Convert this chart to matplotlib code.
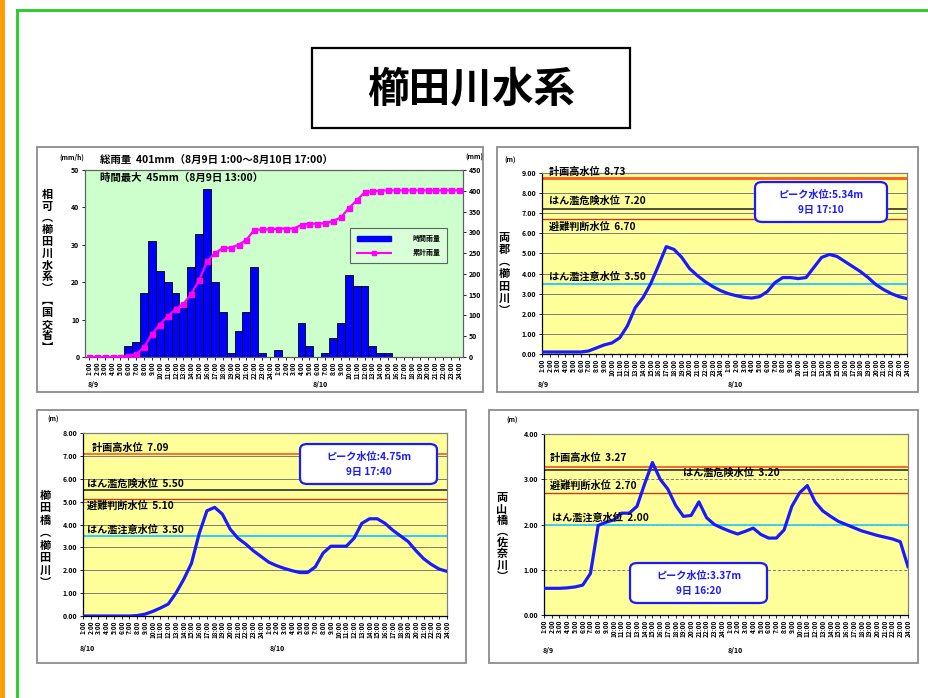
import matplotlib
matplotlib.use("Agg")
import matplotlib.pyplot as plt
from matplotlib.patches import Rectangle, FancyBboxPatch, Patch
from matplotlib.lines import Line2D
import numpy as np

plt.rcParams['font.family'] = ['Noto Sans CJK JP', 'DejaVu Sans']

# ---------------- data ----------------
hour_labels = [f"{h}:00" for h in range(1, 25)] + [f"{h}:00" for h in range(1, 25)]

rain_hourly = [0, 0, 0, 0, 0, 3, 4, 17, 31, 23, 20, 17, 13, 24, 33, 45, 20, 12, 1, 7,
               12, 24, 1, 0, 2, 0, 0, 9, 3, 0, 1, 5, 9, 22, 19, 19, 3, 1, 1, 0,
               0, 0, 0, 0, 0, 0, 0, 0]
rain_cumulative = [0, 0, 0, 0, 0, 3, 7, 24, 55, 78, 98, 115, 128, 152, 185, 230, 250, 262, 263, 270,
                   282, 306, 307, 307, 309, 309, 309, 318, 321, 321, 322, 327, 336, 358, 377, 396, 399, 400, 401, 401,
                   401, 401, 401, 401, 401, 401, 401, 401]

level_ryogun = [0.1, 0.1, 0.1, 0.1, 0.1, 0.1, 0.15, 0.3, 0.45, 0.55, 0.8, 1.4, 2.3, 2.8, 3.5, 4.4, 5.34, 5.2, 4.8, 4.25,
                3.9, 3.6, 3.35, 3.15, 3.0, 2.9, 2.82, 2.78, 2.85, 3.1, 3.55, 3.8, 3.8, 3.75, 3.8, 4.3, 4.8, 4.95, 4.85, 4.6,
                4.35, 4.1, 3.8, 3.45, 3.2, 3.0, 2.85, 2.75]
level_kushidabashi = [0.0, 0.0, 0.0, 0.0, 0.0, 0.0, 0.0, 0.02, 0.08, 0.2, 0.35, 0.52, 1.0, 1.6, 2.3, 3.6, 4.6, 4.75, 4.45, 3.8,
                      3.4, 3.15, 2.85, 2.6, 2.35, 2.2, 2.08, 1.98, 1.9, 1.9, 2.15, 2.75, 3.05, 3.05, 3.05, 3.4, 4.05, 4.25, 4.25, 4.05,
                      3.75, 3.5, 3.25, 2.85, 2.5, 2.25, 2.05, 1.95]
level_sana = [0.59, 0.59, 0.59, 0.6, 0.62, 0.66, 0.92, 1.98, 2.05, 2.1, 2.25, 2.25, 2.4, 2.9, 3.37, 3.0, 2.78, 2.42, 2.18, 2.2,
              2.5, 2.15, 2.0, 1.92, 1.85, 1.79, 1.85, 1.92, 1.78, 1.7, 1.7, 1.88, 2.4, 2.7, 2.86, 2.5, 2.3, 2.18, 2.07, 2.0,
              1.93, 1.86, 1.81, 1.76, 1.72, 1.68, 1.62, 1.07]

ref_names = ["計画高水位", "はん濫危険水位", "避難判断水位", "はん濫注意水位"]
ref_ryogun = [8.73, 7.20, 6.70, 3.50]
ref_kushidabashi = [7.09, 5.50, 5.10, 3.50]
ref_sana = [3.27, 3.20, 2.70, 2.00]
ref_colors = ["#ff5a1a", "#303030", "#c83c1e", "#33ccff"]

# ---------------- figure ----------------
W, H = 929, 698
fig = plt.figure(figsize=(W / 100, H / 100), dpi=100)
fig.patch.set_facecolor("white")


def add_ax(x0, y0, x1, y1):
    return fig.add_axes([x0 / W, 1 - y1 / H, (x1 - x0) / W, (y1 - y0) / H])


def ftext(x, y, s, **kw):
    kw.setdefault("va", "center")
    return fig.text(x / W, 1 - y / H, s, **kw)


def frect(x0, y0, x1, y1, **kw):
    r = Rectangle((x0 / W, 1 - y1 / H), (x1 - x0) / W, (y1 - y0) / H,
                  transform=fig.transFigure, **kw)
    fig.add_artist(r)


def vlabel(x, yc, s, step, fs=8):
    n = len(s)
    y0 = yc - step * (n - 1) / 2
    for i, ch in enumerate(s):
        ftext(x, y0 + i * step, ch, ha="center", fontsize=fs, fontweight="bold")


# page decorations
fig.add_artist(Line2D([2 / W, 2 / W], [0, 1], color="#ff9900", lw=3.5, transform=fig.transFigure))
fig.add_artist(Line2D([17 / W, 17 / W], [0, 1 - 10 / H], color="#22cc22", lw=2, transform=fig.transFigure))
fig.add_artist(Line2D([17 / W, 1], [1 - 10 / H, 1 - 10 / H], color="#22cc22", lw=2, transform=fig.transFigure))

# title
frect(312, 48, 630, 128, fill=False, edgecolor="black", lw=1.6)
ftext(471, 89, "櫛田川水系", ha="center", fontsize=30, fontweight="bold")

# panel borders
for (a, b, c, d) in [(37, 147, 483, 392), (497, 147, 918, 392), (37, 410, 466, 663), (489, 410, 918, 663)]:
    frect(a, b, c, d, fill=False, edgecolor="#8c8c8c", lw=1.3)

x = np.arange(len(hour_labels))


def style_xticks(ax):
    ax.set_xticks(x)
    ax.set_xticklabels(hour_labels, rotation=90, fontsize=4.6, fontweight="bold")
    ax.tick_params(axis="x", length=2, pad=1.5, width=0.6)
    ax.tick_params(axis="y", labelsize=5, length=2, width=0.6, pad=2)
    for lab in ax.get_yticklabels():
        lab.set_fontweight("bold")


# ---------------- panel 1: rainfall ----------------
ax1 = add_ax(85, 170, 463, 357)
ax1.set_facecolor("#ccffcc")
ax1.bar(x, rain_hourly, width=1.0, color="#0000ff", edgecolor="black", linewidth=0.6, zorder=2)
ax1.set_xlim(-0.5, len(x) - 0.5)
ax1.set_ylim(0, 50)
ax1.set_yticks(range(0, 51, 10))
style_xticks(ax1)
for lab in ax1.get_yticklabels():
    lab.set_fontweight("bold")
ax1b = ax1.twinx()
ax1b.plot(x, rain_cumulative, color="#ff00ff", lw=1.6, marker="s", markersize=3.6, zorder=3)
ax1b.set_ylim(0, 450)
ax1b.set_yticks(range(0, 451, 50))
ax1b.tick_params(axis="y", labelsize=5, length=2, width=0.6, pad=2)
for lab in ax1b.get_yticklabels():
    lab.set_fontweight("bold")
for a in (ax1, ax1b):
    for s in a.spines.values():
        s.set_color("#606060")
        s.set_linewidth(0.8)
leg = ax1b.legend(handles=[Patch(facecolor="#0000ff", edgecolor="#0000ff"),
                           Line2D([], [], color="#ff00ff", lw=1.5, marker="s", markersize=3.5)],
                  labels=["時間雨量", "累計雨量"], prop={"size": 5, "weight": "bold"},
                  loc="upper left", bbox_to_anchor=((347 - 85) / 378, 1 - (225 - 170) / 187),
                  frameon=True, fancybox=False, edgecolor="#404040", facecolor="#ddffdd",
                  handlelength=5, borderpad=0.9, labelspacing=1.1, handletextpad=3)
leg.get_frame().set_linewidth(0.8)
ftext(72, 157, "(mm/h)", ha="center", fontsize=4.8, fontweight="bold")
ftext(474, 157, "(mm)", ha="center", fontsize=4.8, fontweight="bold")
ftext(100, 161, "総雨量  401mm（8月9日 1:00～8月10日 17:00）", ha="left", fontsize=7.5, fontweight="bold")
ftext(100, 178, "時間最大  45mm（8月9日 13:00）", ha="left", fontsize=7.5, fontweight="bold")
ftext(93, 384, "8/9", ha="center", fontsize=5, fontweight="bold")
ftext(320, 384, "8/10", ha="center", fontsize=5, fontweight="bold")
vlabel(47, 271, "相可︵櫛田川水系︶︻国交省︼", 11.8)


# ---------------- water level panels ----------------
def level_panel(box, ymax, yt, series, refs, ref_lw, label_pos, peak_box, peak_text,
                unit_pos, date_pos, ylab, grid_ls="-"):
    ax = add_ax(*box)
    ax.set_facecolor("#ffff99")
    ax.set_xlim(0, len(x) - 1)
    ax.set_ylim(0, ymax)
    ax.set_yticks(yt)
    ax.set_yticklabels([f"{v:.2f}" for v in yt])
    style_xticks(ax)
    for v in yt[1:]:
        ax.axhline(v, color="#7a7a7a", lw=0.7, ls=grid_ls, zorder=1)
    for val, col, lw in zip(refs, ref_colors, ref_lw):
        ax.axhline(val, color=col, lw=lw, zorder=2)
    ax.plot(x, series, color="#1a1aff", lw=2.3, zorder=4, solid_joinstyle="round")
    ax.spines["left"].set_color("black")
    ax.spines["bottom"].set_color("black")
    ax.spines["top"].set_color("#808080")
    ax.spines["right"].set_color("#808080")
    for s in ax.spines.values():
        s.set_linewidth(0.9)
    for name, val, (px, py) in zip(ref_names, refs, label_pos):
        ftext(px, py, f"{name}  {val:.2f}", ha="left", fontsize=7.3, fontweight="bold")
    (bx0, by0, bx1, by1) = peak_box
    p = FancyBboxPatch((bx0 / W, 1 - by1 / H), (bx1 - bx0) / W, (by1 - by0) / H,
                       boxstyle="round,pad=0,rounding_size=0.008", transform=fig.transFigure,
                       facecolor="white", edgecolor="#1a1aff", lw=1.6, zorder=5)
    fig.add_artist(p)
    ftext((bx0 + bx1) / 2, by0 + (by1 - by0) * 0.33, peak_text[0], ha="center",
          fontsize=7.3, fontweight="bold", color="#1a1aff", zorder=7)
    ftext((bx0 + bx1) / 2, by0 + (by1 - by0) * 0.70, peak_text[1], ha="center",
          fontsize=7.3, fontweight="bold", color="#1a1aff", zorder=7)
    ftext(unit_pos[0], unit_pos[1], "(m)", ha="center", fontsize=4.8, fontweight="bold")
    for (px, py, s) in date_pos:
        ftext(px, py, s, ha="center", fontsize=5, fontweight="bold")
    vlabel(*ylab)
    return ax


level_panel((542, 173, 907, 354), 9, list(range(0, 10)), level_ryogun, ref_ryogun,
            [2.0, 1.2, 1.0, 1.5],
            [(549, 172), (549, 201), (549, 227), (549, 277)],
            (755, 182, 887, 222), ("ピーク水位:5.34m", "9日 17:10"),
            (510, 160), [(543, 384, "8/9"), (735, 384, "8/10")],
            (504, 274, "両郡︵櫛田川︶", 12))

level_panel((83, 433, 447, 616), 8, list(range(0, 9)), level_kushidabashi, ref_kushidabashi,
            [1.2, 1.2, 1.0, 1.5],
            [(92, 448), (87, 484), (87, 506), (87, 530)],
            (300, 444, 437, 484), ("ピーク水位:4.75m", "9日 17:40"),
            (53, 419), [(87, 649, "8/10"), (277, 649, "8/10")],
            (45, 539, "櫛田橋︵櫛田川︶", 12.4))

level_panel((544, 434, 908, 615), 4, list(range(0, 5)), level_sana, ref_sana,
            [1.3, 1.2, 1.0, 1.3],
            [(550, 458), (683, 473), (550, 486), (552, 518)],
            (630, 563, 767, 603), ("ピーク水位:3.37m", "9日 16:20"),
            (512, 420), [(548, 650, "8/9"), (735, 650, "8/10")],
            (502, 537, "両山橋︵佐奈川︶", 11.2), grid_ls=(0, (3, 2)))

fig.savefig("out.png", dpi=100, facecolor="white")
